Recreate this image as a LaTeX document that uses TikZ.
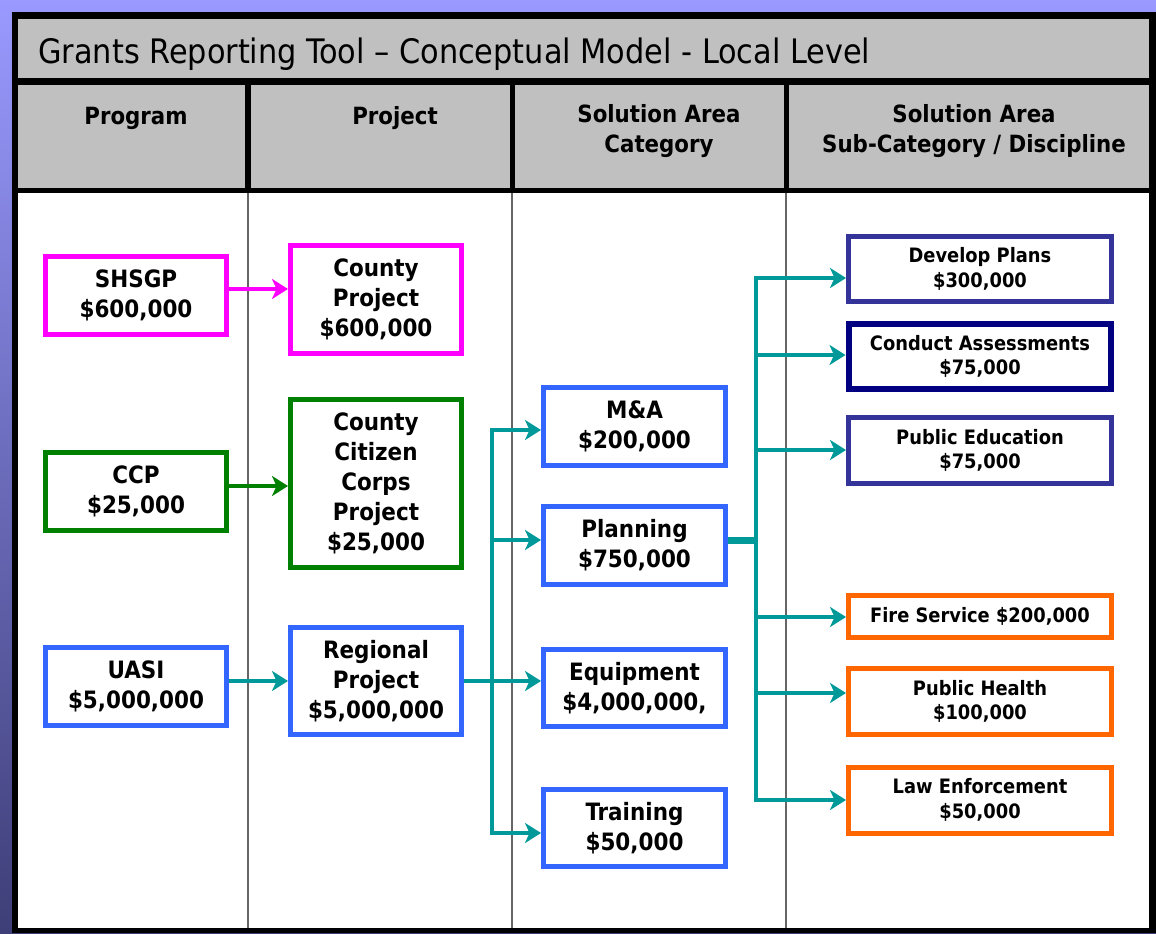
\documentclass[tikz,border=0pt]{standalone}
\usepackage{fontspec}
\setmainfont{DejaVu Sans}
\newfontfamily\condfont{DejaVu Sans Condensed}
\usetikzlibrary{arrows.meta}
\definecolor{hdrgray}{HTML}{C0C0C0}
\definecolor{flowteal}{HTML}{009999}
\definecolor{shsgpmag}{HTML}{FF00FF}
\definecolor{ccpgreen}{HTML}{008000}
\definecolor{uasiblue}{HTML}{3366FF}
\definecolor{planblue}{HTML}{333399}
\definecolor{assessnavy}{HTML}{000080}
\definecolor{resporange}{HTML}{FF6600}
\definecolor{bgtop}{HTML}{9999FF}
\definecolor{bgbottom}{HTML}{3E3E78}
\tikzset{
  fundbox/.style={draw=#1, line width=0.1cm, fill=white, inner sep=0pt, align=center,
    font=\condfont\bfseries\fontsize{13.6}{17}\selectfont},
  progbox/.style={fundbox=#1, minimum width=3.62cm, minimum height=1.56cm},
  projbox/.style={fundbox=#1, minimum width=3.42cm},
  catbox/.style={fundbox=uasiblue, minimum width=3.64cm, minimum height=1.55cm},
  subbox/.style={fundbox=#1, minimum width=5.26cm, minimum height=1.32cm,
    font=\condfont\bfseries\fontsize{11.3}{14}\selectfont},
  flow/.style={draw=flowteal, line width=0.09cm, -{Stealth[length=0.32cm, width=0.4cm, inset=0.09cm]}},
  colrule/.style={draw=black!60, line width=0.03cm},
  hdrtext/.style={font=\condfont\bfseries\fontsize{13.5}{17}\selectfont, align=center, inner sep=0pt},
}
\begin{document}
\begin{tikzpicture}[x=0.02cm, y=-0.02cm]
  % frame and header band
  \shade[top color=bgtop, bottom color=bgbottom] (0,0) rectangle (1156,933);
  \fill[black] (12,12) rectangle (1156,933);
  \fill[hdrgray] (18,19) rectangle (1149,78);
  \foreach \xa/\xb in {18/245, 251/510, 515/784, 789/1149}
    \fill[hdrgray] (\xa,85) rectangle (\xb,188);
  \fill[white] (18,193) rectangle (1149,928);
  \foreach \xc in {248,512,786}
    \draw[colrule] (\xc,193) -- (\xc,928);

  \node[anchor=base west, inner sep=0pt, font=\condfont\fontsize{19.2}{22}\selectfont] (title) at (38,63)
    {Grants Reporting Tool – Conceptual Model - Local Level};
  \node[hdrtext] (hprog) at (136,118) {Program};
  \node[hdrtext] (hproj) at (395,118) {Project};
  \node[hdrtext] (hcat) at (659,131) {Solution Area\\Category};
  \node[hdrtext] (hsub) at (974,131) {Solution Area\\Sub-Category / Discipline};

  % programs
  \node[progbox=shsgpmag] (shsgp) at (136,295.5) {SHSGP\\\$600,000};
  \node[progbox=ccpgreen] (ccp) at (136,491.5) {CCP\\\$25,000};
  \node[progbox=uasiblue] (uasi) at (136,686.5) {UASI\\\$5,000,000};

  % projects
  \node[projbox=shsgpmag, minimum height=2.16cm] (cntyproj) at (376,299.5) {County\\Project\\\$600,000};
  \node[projbox=ccpgreen, minimum height=3.36cm] (citproj) at (376,483.5) {County\\Citizen\\Corps\\Project\\\$25,000};
  \node[projbox=uasiblue, minimum height=2.14cm] (regproj) at (376,681) {Regional\\Project\\\$5,000,000};

  % solution area categories
  \node[catbox] (mna) at (634.5,426.5) {M\&A\\\$200,000};
  \node[catbox] (plan) at (634.5,545.5) {Planning\\\$750,000};
  \node[catbox] (equip) at (634.5,688) {Equipment\\\$4,000,000,};
  \node[catbox] (train) at (634.5,828) {Training\\\$50,000};

  % sub-categories / disciplines
  \node[subbox=planblue] (devplans) at (980,269) {Develop Plans\\\$300,000};
  \node[subbox=assessnavy, line width=0.12cm] (assess) at (980,356.5) {Conduct Assessments\\\$75,000};
  \node[subbox=planblue] (pubedu) at (980,450.5) {Public Education\\\$75,000};
  \node[subbox=resporange, minimum height=0.84cm] (fire) at (980,616.5) {Fire Service \$200,000};
  \node[subbox=resporange] (pubhealth) at (980,701.5) {Public Health\\\$100,000};
  \node[subbox=resporange] (lawenf) at (980,800) {Law Enforcement\\\$50,000};

  % funding flows
  \draw[flow, draw=shsgpmag, line width=0.08cm] (shsgp.east |- 0,289) -- (cntyproj.west |- 0,289);
  \draw[flow, draw=ccpgreen, line width=0.08cm] (ccp.east |- 0,486) -- (citproj.west |- 0,486);
  \draw[flow] (uasi.east |- 0,681) -- (regproj.west);
  \draw[flow] (regproj.east) -- (equip.west |- 0,681);
  \coordinate (splitcat) at (492,681);
  \foreach \dest/\row in {mna/430, plan/540, train/833}
    \draw[flow] (splitcat) |- (\dest.west |- 0,\row);

  \coordinate (splitsub) at (756,540);
  \draw[draw=flowteal, line width=0.14cm] (plan.east |- 0,540) -- (splitsub);
  \foreach \dest/\row in {devplans/278, assess/355, pubedu/450, fire/617, pubhealth/693, lawenf/800}
    \draw[flow] (splitsub) |- (\dest.west |- 0,\row);
\end{tikzpicture}
\end{document}
